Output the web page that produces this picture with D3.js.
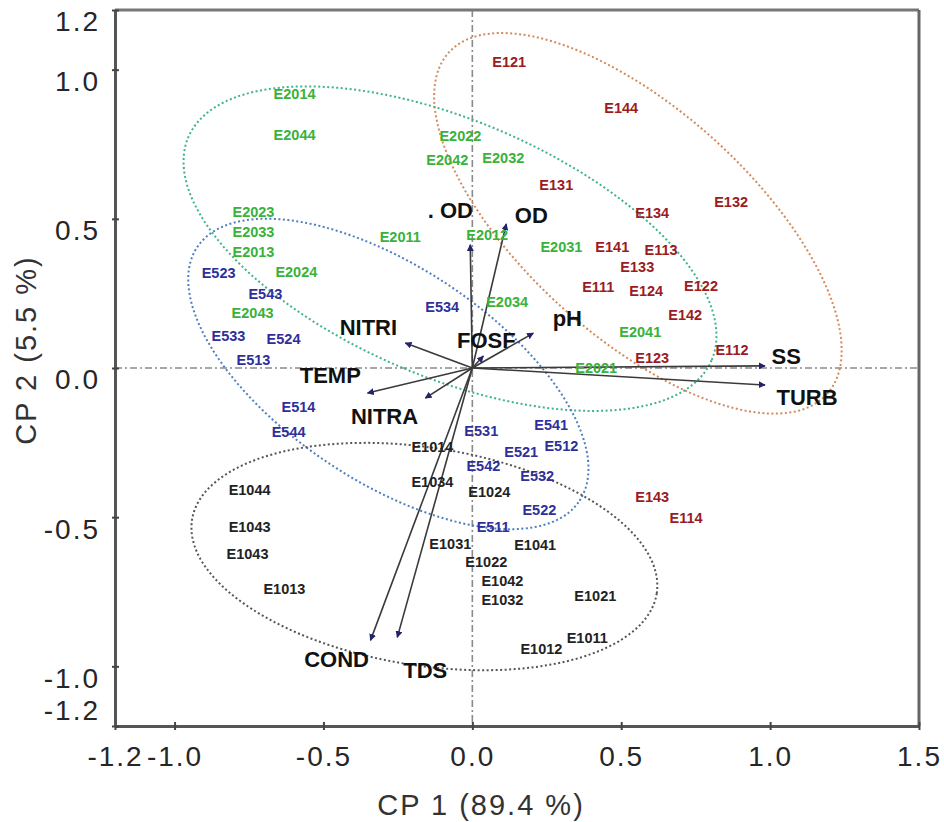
<!DOCTYPE html>
<html>
<head>
<meta charset="utf-8">
<script src="https://cdn.jsdelivr.net/npm/d3@7"></script>
<style>
  body { margin: 0; background: #fff; }
  svg { display: block; font-family: "Liberation Sans", Arial, sans-serif; }
  .site { font-size: 14.5px; font-weight: bold; }
  .var { font-size: 22px; font-weight: bold; fill: #111; }
  .tick-label { font-size: 28px; fill: #262626; letter-spacing: 2px; }
  .axis-title { font-size: 29px; fill: #333; letter-spacing: 2px; }
</style>
</head>
<body>
<svg id="chart" width="944" height="822"></svg>
<script>
// tick values
const xTicks = [-1.2, -1.0, -0.5, 0.0, 0.5, 1.0, 1.5];
const yTicks = [1.2, 1.0, 0.5, 0.0, -0.5, -1.0, -1.2];

// sample scores [label, CP1, CP2]
const redSites = [
  ['E121', 0.124, 1.027], ['E144', 0.500, 0.872], ['E132', 0.869, 0.557],
  ['E131', 0.282, 0.614], ['E134', 0.604, 0.520], ['E141', 0.470, 0.406],
  ['E113', 0.634, 0.396], ['E133', 0.554, 0.339], ['E111', 0.423, 0.272],
  ['E124', 0.584, 0.258], ['E122', 0.768, 0.275], ['E142', 0.715, 0.178],
  ['E123', 0.604, 0.034], ['E112', 0.872, 0.060], ['E143', 0.604, -0.433],
  ['E114', 0.718, -0.503]
];
const greenSites = [
  ['E2014', -0.597, 0.919], ['E2044', -0.597, 0.782], ['E2022', -0.040, 0.779],
  ['E2042', -0.084, 0.698], ['E2032', 0.104, 0.705], ['E2023', -0.735, 0.523],
  ['E2033', -0.735, 0.456], ['E2013', -0.735, 0.389], ['E2024', -0.591, 0.322],
  ['E2011', -0.242, 0.440], ['E2012', 0.050, 0.446], ['E2031', 0.299, 0.406],
  ['E2034', 0.117, 0.221], ['E2043', -0.738, 0.185], ['E2041', 0.564, 0.121],
  ['E2021', 0.416, 0.000]
];
const blueSites = [
  ['E523', -0.852, 0.319], ['E543', -0.695, 0.248], ['E534', -0.101, 0.205],
  ['E533', -0.819, 0.107], ['E524', -0.634, 0.097], ['E513', -0.735, 0.027],
  ['E514', -0.584, -0.131], ['E544', -0.617, -0.215], ['E531', 0.030, -0.211],
  ['E541', 0.265, -0.191], ['E521', 0.164, -0.282], ['E512', 0.299, -0.262],
  ['E542', 0.037, -0.329], ['E532', 0.218, -0.362], ['E522', 0.225, -0.477],
  ['E511', 0.070, -0.534]
];
const blackSites = [
  ['E1014', -0.134, -0.265], ['E1034', -0.134, -0.383], ['E1024', 0.057, -0.416],
  ['E1044', -0.748, -0.409], ['E1043', -0.748, -0.534], ['E1043', -0.755, -0.624],
  ['E1031', -0.074, -0.591], ['E1041', 0.211, -0.594], ['E1022', 0.047, -0.651],
  ['E1013', -0.631, -0.742], ['E1042', 0.101, -0.715], ['E1032', 0.101, -0.779],
  ['E1021', 0.413, -0.765], ['E1011', 0.386, -0.906], ['E1012', 0.232, -0.940]
];

// variable loadings [name, CP1, CP2]
const loadings = [
  ['OD1', -0.007, 0.413], ['OD2', 0.114, 0.483], ['pH', 0.205, 0.117],
  ['FOSF', 0.037, 0.040], ['NITRI', -0.225, 0.084], ['TEMP', -0.352, -0.084],
  ['NITRA', -0.158, -0.101], ['SS', 0.983, 0.007], ['TURB', 0.983, -0.057],
  ['COND', -0.342, -0.913], ['TDS', -0.252, -0.903]
];
// where the variable names sit [text, CP1, CP2]
const loadingLabels = [
  ['. OD', -0.074, 0.530], ['OD', 0.198, 0.513], ['pH', 0.319, 0.168],
  ['FOSF', 0.047, 0.094], ['NITRI', -0.349, 0.138], ['TEMP', -0.477, -0.023],
  ['NITRA', -0.295, -0.161], ['SS', 1.054, 0.040], ['TURB', 1.124, -0.097],
  ['COND', -0.456, -0.977], ['TDS', -0.158, -1.013]
];

// group ellipses [group, cx, cy, rx, ry, angle deg]
const ellipses = [
  ['red', 0.556, 0.485, 0.855, 0.38, -42],
  ['green', -0.075, 0.400, 0.955, 0.43, -23],
  ['blue', -0.282, -0.020, 0.770, 0.36, -33.5],
  ['black', -0.161, -0.632, 0.790, 0.365, -9]
];

const textColor = { red: '#9b1b22', green: '#38b238', blue: '#2f2f9c', black: '#222' };
const ringColor = { red: '#d48a5c', green: '#3fb38a', blue: '#4f7fc0', black: '#555' };

const svg = d3.select('#chart');
const x = d3.scaleLinear().domain([-1.2, 1.5]).range([115, 919]);
const y = d3.scaleLinear().domain([-1.2, 1.2]).range([726, 10]);

// zero lines
svg.append('line')
  .attr('x1', x(-1.2)).attr('x2', x(1.5)).attr('y1', y(0)).attr('y2', y(0))
  .attr('stroke', '#8a8a8a').attr('stroke-width', 1.6).attr('stroke-dasharray', '7,3,2,3');
svg.append('line')
  .attr('x1', x(0)).attr('x2', x(0)).attr('y1', y(1.2)).attr('y2', y(-1.2))
  .attr('stroke', '#8a8a8a').attr('stroke-width', 1.6).attr('stroke-dasharray', '7,3,2,3');

// ellipses
const ellLine = d3.line().curve(d3.curveLinearClosed);
ellipses.forEach(([group, cx, cy, rx, ry, ang]) => {
  const a = ang * Math.PI / 180;
  const pts = d3.range(0, 160).map((i) => {
    const t = i / 160 * 2 * Math.PI;
    const ex = rx * Math.cos(t);
    const ey = ry * Math.sin(t);
    return [x(cx + ex * Math.cos(a) - ey * Math.sin(a)), y(cy + ex * Math.sin(a) + ey * Math.cos(a))];
  });
  svg.append('path')
    .attr('d', ellLine(pts))
    .attr('fill', 'none')
    .attr('stroke', ringColor[group])
    .attr('stroke-width', 2)
    .attr('stroke-dasharray', '2,2.5');
});

// arrows
const defs = svg.append('defs');
defs.append('marker')
  .attr('id', 'head')
  .attr('viewBox', '0 0 10 10')
  .attr('refX', 9).attr('refY', 5)
  .attr('markerWidth', 7).attr('markerHeight', 7)
  .attr('markerUnits', 'userSpaceOnUse')
  .attr('orient', 'auto')
  .append('path')
  .attr('d', 'M0,0L10,5L0,10z')
  .attr('fill', '#23236b');

svg.append('g')
  .selectAll('line')
  .data(loadings)
  .join('line')
  .attr('x1', x(0)).attr('y1', y(0))
  .attr('x2', (d) => x(d[1])).attr('y2', (d) => y(d[2]))
  .attr('stroke', '#3a3a3a')
  .attr('stroke-width', 1.6)
  .attr('marker-end', 'url(#head)');

// site labels
const groups = [['red', redSites], ['green', greenSites], ['blue', blueSites], ['black', blackSites]];
groups.forEach(([group, rows]) => {
  svg.append('g')
    .selectAll('text')
    .data(rows)
    .join('text')
    .attr('class', 'site')
    .attr('x', (d) => x(d[1]))
    .attr('y', (d) => y(d[2]))
    .attr('dy', '0.35em')
    .attr('text-anchor', 'middle')
    .attr('fill', textColor[group])
    .text((d) => d[0]);
});

svg.append('g')
  .selectAll('text')
  .data(loadingLabels)
  .join('text')
  .attr('class', 'var')
  .attr('x', (d) => x(d[1]))
  .attr('y', (d) => y(d[2]))
  .attr('dy', '0.35em')
  .attr('text-anchor', 'middle')
  .text((d) => d[0]);

// frame
svg.append('line').attr('x1', x(-1.2)).attr('x2', x(1.5)).attr('y1', y(1.2)).attr('y2', y(1.2))
  .attr('stroke', '#777').attr('stroke-width', 3);
svg.append('line').attr('x1', x(1.5)).attr('x2', x(1.5)).attr('y1', y(1.2)).attr('y2', y(-1.2))
  .attr('stroke', '#666').attr('stroke-width', 3);

const fmt = (d) => d.toFixed(1);

const xAxis = svg.append('g')
  .attr('transform', `translate(0,${y(-1.2)})`)
  .call(d3.axisBottom(x).tickValues(xTicks).tickFormat(fmt).tickSizeInner(4).tickSizeOuter(0).tickPadding(16));
xAxis.select('.domain').attr('stroke', '#555').attr('stroke-width', 3);
xAxis.selectAll('.tick line').attr('y1', -4).attr('stroke', '#444').attr('stroke-width', 2);
xAxis.selectAll('.tick text').attr('class', 'tick-label').attr('font-size', null).attr('font-family', null).attr('fill', null);

const yAxis = svg.append('g')
  .attr('transform', `translate(${x(-1.2)},0)`)
  .call(d3.axisLeft(y).tickValues(yTicks).tickFormat(fmt).tickSizeInner(3).tickSizeOuter(0).tickPadding(12));
yAxis.select('.domain').attr('stroke', '#555').attr('stroke-width', 3);
yAxis.selectAll('.tick line').attr('x1', 4).attr('stroke', '#444').attr('stroke-width', 2);
yAxis.selectAll('.tick text')
  .attr('class', 'tick-label').attr('font-size', null).attr('font-family', null).attr('fill', null)
  .attr('y', (d) => (d === -1.2 ? -15 : 12));

// axis titles
svg.append('text')
  .attr('class', 'axis-title')
  .attr('x', 481).attr('y', 815)
  .attr('text-anchor', 'middle')
  .text('CP 1 (89.4 %)');

svg.append('text')
  .attr('class', 'axis-title')
  .attr('transform', 'translate(36,350) rotate(-90)')
  .attr('text-anchor', 'middle')
  .text('CP 2 (5.5 %)');
</script>
</body>
</html>
